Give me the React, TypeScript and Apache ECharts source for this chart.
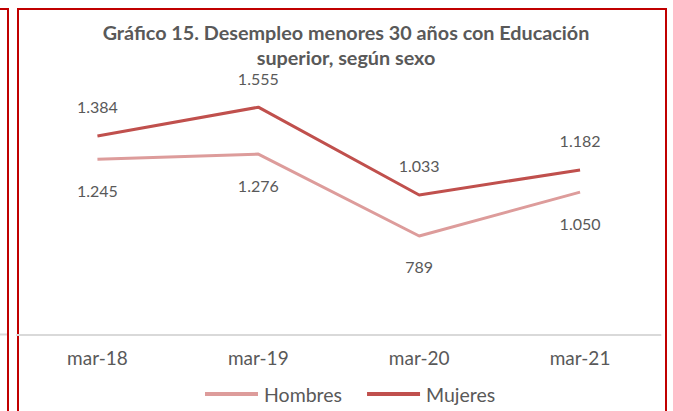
import React, { useEffect, useRef } from "react";
import * as echarts from "echarts";

const categories = ["mar-18", "mar-19", "mar-20", "mar-21"];
const hombres = [1245, 1276, 789, 1050];
const mujeres = [1384, 1555, 1033, 1182];
const titleText = "Gráfico 15. Desempleo menores 30 años con Educación\nsuperior, según sexo";

const fmt = (v: number) => String(v).replace(/\B(?=(\d{3})+(?!\d))/g, ".");

export default function App() {
  const ref = useRef<HTMLDivElement>(null);
  useEffect(() => {
    const chart = echarts.init(ref.current!, null, { renderer: "svg" });
    const font = "Lato, 'Noto Sans', sans-serif";
    const labelBase = {
      show: true,
      position: "inside",
      color: "#595959",
      fontSize: 16,
      fontFamily: font,
      formatter: (p: any) => fmt(p.value),
    };
    chart.setOption({
      animation: false,
      backgroundColor: "#ffffff",
      textStyle: { fontFamily: font },
      title: {
        text: titleText,
        left: 341,
        textAlign: "center",
        top: 14,
        textStyle: { fontFamily: font, fontSize: 19.8, fontWeight: "bold", color: "#595959", lineHeight: 25 },
      },
      legend: {
        bottom: 2,
        left: 200,
        icon: "rect",
        itemWidth: 53,
        itemHeight: 4,
        itemGap: 25,
        data: ["Hombres", "Mujeres"],
        textStyle: { fontFamily: font, fontSize: 19.5, color: "#595959", padding: [0, 0, 0, 1] },
      },
      grid: { left: 17, right: 12.5, top: 66, bottom: 76 },
      xAxis: {
        type: "category",
        data: categories,
        boundaryGap: true,
        axisLine: { lineStyle: { color: "#d9d9d9", width: 2 } },
        axisTick: { show: false },
        axisLabel: { color: "#595959", fontSize: 19, margin: 13, fontFamily: font },
      },
      yAxis: { type: "value", min: 200, max: 1800, show: false, splitLine: { show: false } },
      series: [
        {
          name: "Hombres",
          type: "line",
          data: hombres,
          symbol: "circle",
          symbolSize: 0,
          showSymbol: true,
          lineStyle: { color: "#dd9c9b", width: 3 },
          itemStyle: { color: "#dd9c9b" },
          label: { ...labelBase, offset: [0, 31] },
        },
        {
          name: "Mujeres",
          type: "line",
          data: mujeres,
          symbol: "circle",
          symbolSize: 0,
          showSymbol: true,
          lineStyle: { color: "#c0504d", width: 3 },
          itemStyle: { color: "#c0504d" },
          label: { ...labelBase, offset: [0, -29] },
        },
      ],
      graphic: [
        { type: "line", shape: { x1: 0, y1: 9, x2: 9, y2: 9 }, style: { stroke: "#c00000", lineWidth: 2 } },
        { type: "line", shape: { x1: 8, y1: 8, x2: 8, y2: 411 }, style: { stroke: "#c00000", lineWidth: 2 } },
        { type: "line", shape: { x1: 0, y1: 334.5, x2: 7, y2: 334.5 }, style: { stroke: "#d9d9d9", lineWidth: 2 } },
        { type: "polyline", shape: { points: [[18, 411], [18, 9], [666, 9], [666, 411]] }, style: { stroke: "#c00000", lineWidth: 2, fill: "none" } },
      ],
    });
    return () => chart.dispose();
  }, []);
  return <div ref={ref} style={{ width: 673, height: 411, position: "fixed", left: 0, top: 0 }} />;
}
